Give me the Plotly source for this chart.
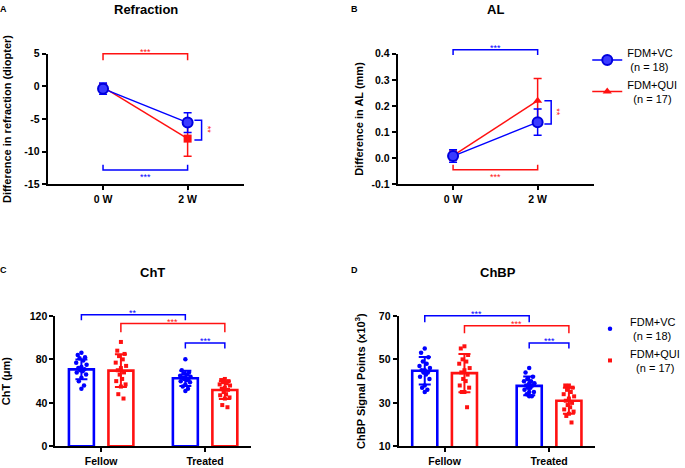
import plotly.graph_objects as go

W, H = 685, 468
BLUE = '#0000FF'
RED = '#FF1111'
FONT = 'Arial, Liberation Sans, Helvetica, sans-serif'

# ---------------- data ----------------
time_labels = ['0 W', '2 W']
refr_vc_mean = [-0.35, -5.55]
refr_vc_sd = [0.85, 1.5]
refr_qui_mean = [-0.1, -8.0]
refr_qui_sd = [0.5, 2.7]

al_vc_mean = [0.008, 0.138]
al_vc_sd = [0.024, 0.05]
al_qui_mean = [0.01, 0.22]
al_qui_sd = [0.018, 0.085]

eye_groups = ['Fellow', 'Treated']
cht_vc_mean = [70.8, 62.6]
cht_vc_sd = [9.0, 7.0]
cht_qui_mean = [69.7, 51.8]
cht_qui_sd = [15.0, 8.2]
cht_vc_points = [
    [86, 84, 82, 81, 79, 77, 75, 73, 72, 71, 70, 69, 68, 66, 63, 60, 56, 53],
    [80, 70, 68, 67, 66, 65, 64, 63, 63, 62, 62, 61, 60, 59, 57, 55, 53, 51],
]
cht_qui_points = [
    [96, 88, 85, 83, 80, 77, 74, 72, 70, 68, 66, 62, 60, 57, 55, 48, 44],
    [62, 61, 60, 59, 58, 57, 56, 54, 53, 52, 50, 48, 47, 45, 44, 38, 36],
]

chbp_vc_mean = [44.8, 37.8]
chbp_vc_sd = [6.3, 4.3]
chbp_qui_mean = [43.7, 31.0]
chbp_qui_sd = [8.8, 6.0]
chbp_vc_points = [
    [55, 53, 51, 49, 48, 47, 46, 45, 45, 44, 44, 43, 42, 41, 38, 37, 36, 35],
    [46, 44, 42, 41, 40, 40, 39, 39, 38, 38, 37, 37, 36, 35, 35, 34, 33, 33],
]
chbp_qui_points = [
    [56, 55, 52, 50, 49, 48, 46, 45, 44, 43, 41, 40, 38, 37, 35, 35, 28],
    [38, 38, 37, 36, 35, 34, 33, 32, 31, 30, 29, 28, 27, 26, 25, 24, 21],
]

vc_name = 'FDM+VC<br>\u00a0(n = 18)'
qui_name = 'FDM+QUI<br>\u00a0\u00a0(n = 17)'

# ---------------- layout geometry (pixels) ----------------
PANELS = {
    'A': dict(box=(49, 251, 49, 183), xr=(-0.655, 1.667), yr=(-15, 5), ax=''),
    'B': dict(box=(409, 611, 49, 183), xr=(-0.655, 1.667), yr=(-0.1, 0.4), ax='2'),
    'C': dict(box=(57, 258, 318, 452), xr=(-0.44, 1.44), yr=(0, 120), ax='3'),
    'D': dict(box=(410, 612, 318, 452), xr=(-0.44, 1.44), yr=(10, 70), ax='4'),
}


def px(panel, x, y):
    p = PANELS[panel]
    l, r, t, b = p['box']
    x0, x1 = p['xr']
    y0, y1 = p['yr']
    X = l + (x - x0) / (x1 - x0) * (r - l)
    Y = b - (y - y0) / (y1 - y0) * (b - t)
    return X, Y


def paper(X, Y):
    return X / W, 1 - Y / H


fig = go.Figure()

# ---------------- panels A & B (line plots) ----------------
def line_panel(panel, vc_m, vc_s, qui_m, qui_s, qui_symbol, show):
    ax = PANELS[panel]['ax']
    xs = list(range(len(time_labels)))
    fig.add_trace(go.Scatter(
        x=xs, y=qui_m, mode='lines+markers', name=qui_name,
        xaxis='x' + ax, yaxis='y' + ax, showlegend=show, legendrank=2,
        line=dict(color=RED, width=1.5),
        marker=dict(symbol=qui_symbol, size=8, color=RED),
        error_y=dict(type='data', array=qui_s, color=RED, thickness=1.5, width=4),
        cliponaxis=False))
    fig.add_trace(go.Scatter(
        x=xs, y=vc_m, mode='lines+markers', name=vc_name,
        xaxis='x' + ax, yaxis='y' + ax, showlegend=show, legendrank=1,
        line=dict(color=BLUE, width=1.5),
        marker=dict(symbol='circle', size=10, color='#3a3aff', line=dict(color='#0000dd', width=2)),
        error_y=dict(type='data', array=vc_s, color=BLUE, thickness=1.5, width=4),
        cliponaxis=False))


line_panel('A', refr_vc_mean, refr_vc_sd, refr_qui_mean, refr_qui_sd, 'square', False)
line_panel('B', al_vc_mean, al_vc_sd, al_qui_mean, al_qui_sd, 'triangle-up', True)

# ---------------- panels C & D (bar + points) ----------------
OFF = 0.19
JIT = [0, -0.035, 0.035, -0.018, 0.018, -0.05, 0.05, 0, -0.03, 0.03,
       -0.012, 0.012, -0.045, 0.045, 0, -0.025, 0.025, 0]


def bar_panel(panel, vc_m, vc_s, qui_m, qui_s, vc_pts, qui_pts, show):
    ax = PANELS[panel]['ax']
    for sign, m, s, pts, col, sym, name, rank in [
            (-1, vc_m, vc_s, vc_pts, BLUE, 'circle', vc_name, 1),
            (1, qui_m, qui_s, qui_pts, RED, 'square', qui_name, 2)]:
        xb = [g + sign * OFF for g in range(len(eye_groups))]
        fig.add_trace(go.Bar(
            x=xb, y=m, width=0.24, xaxis='x' + ax, yaxis='y' + ax, showlegend=False,
            marker=dict(color='rgba(0,0,0,0)', line=dict(color=col, width=2.6)),
            error_y=dict(type='data', array=s, color=col, thickness=2, width=6)))
        px_, py_ = [], []
        for g, vals in enumerate(pts):
            for i, v in enumerate(vals):
                px_.append(g + sign * OFF + JIT[i % len(JIT)])
                py_.append(v)
        fig.add_trace(go.Scatter(
            x=px_, y=py_, mode='markers', name=name, legend='legend2', legendrank=rank,
            xaxis='x' + ax, yaxis='y' + ax, showlegend=show,
            marker=dict(symbol=sym, size=4.5 if sym == 'circle' else 4, color=col),
            cliponaxis=False))


bar_panel('C', cht_vc_mean, cht_vc_sd, cht_qui_mean, cht_qui_sd, cht_vc_points, cht_qui_points, False)
bar_panel('D', chbp_vc_mean, chbp_vc_sd, chbp_qui_mean, chbp_qui_sd, chbp_vc_points, chbp_qui_points, True)

# ---------------- axes ----------------
ytitles = {
    'A': ('Difference in refraction (diopter)', 10),
    'B': ('Difference in AL (mm)', 6),
    'C': ('ChT (\u03bcm)', 18),
    'D': ('ChBP Signal Points (x10<sup>3</sup>)', 11),
}
ytick = {
    'A': dict(tickvals=[5, 0, -5, -10, -15], ticktext=['5', '0', '-5', '-10', '-15']),
    'B': dict(tickvals=[0.4, 0.3, 0.2, 0.1, 0.0, -0.1], ticktext=['0.4', '0.3', '0.2', '0.1', '0.0', '-0.1']),
    'C': dict(tickvals=[0, 40, 80, 120], ticktext=['0', '40', '80', '120']),
    'D': dict(tickvals=[10, 30, 50, 70], ticktext=['10', '30', '50', '70']),
}
for key, p in PANELS.items():
    l, r, t, b = p['box']
    ax = p['ax']
    xlabels = time_labels if key in 'AB' else eye_groups
    common = dict(showline=True, linecolor='black', linewidth=2, ticks='outside',
                  ticklen=4, tickwidth=1.5, tickcolor='black', showgrid=False,
                  zeroline=False, fixedrange=True,
                  tickfont=dict(family=FONT, size=10.5, color='black', weight='bold'))
    fig.layout['xaxis' + ax] = dict(
        domain=[l / W, r / W], range=list(p['xr']), anchor='y' + ax,
        tickvals=list(range(len(xlabels))), ticktext=xlabels, **common)
    fig.layout['yaxis' + ax] = dict(
        domain=[1 - b / H, 1 - t / H], range=list(p['yr']), anchor='x' + ax,
        title=dict(text=ytitles[key][0], standoff=ytitles[key][1],
                   font=dict(family=FONT, size=11, color='black', weight='bold')),
        **ytick[key], **common)

# ---------------- titles and panel letters ----------------
annotations = []
shapes = []
titles = [('Refraction', 150, 4), ('AL', 510, 4), ('ChT', 157, 273), ('ChBP', 512, 273)]
for text, X, Y in titles:
    x, y = paper(X, Y)
    annotations.append(dict(text='<b>' + text + '</b>', x=x, y=y, xref='paper', yref='paper',
                            xanchor='center', yanchor='middle', showarrow=False,
                            font=dict(family=FONT, size=13, color='black')))
letters = [('A', 4, 3), ('B', 365, 3), ('C', 4, 271), ('D', 365, 271)]
for text, X, Y in letters:
    x, y = paper(X, Y)
    annotations.append(dict(text='<b>' + text + '</b>', x=x, y=y, xref='paper', yref='paper',
                            xanchor='center', yanchor='middle', showarrow=False,
                            font=dict(family=FONT, size=9, color='black')))


def hbracket(panel, x0, x1, y, tip, color, label, label_dy):
    X0, Y = px(panel, x0, y)
    X1, _ = px(panel, x1, y)
    _, T = px(panel, x0, tip)
    pts = [(X0, T), (X0, Y), (X1, Y), (X1, T)]
    path = 'M ' + ' L '.join('%.4f,%.4f' % paper(a, c) for a, c in pts)
    shapes.append(dict(type='path', path=path, xref='paper', yref='paper',
                       line=dict(color=color, width=1.5)))
    lx, ly = paper((X0 + X1) / 2, Y + label_dy)
    annotations.append(dict(text=label, x=lx, y=ly, xref='paper', yref='paper',
                            xanchor='center', yanchor='middle', showarrow=False,
                            font=dict(family=FONT, size=9, color=color)))


def vbracket(panel, x, xt, y0, y1, color, label, label_dx, label_color):
    X, Y0 = px(panel, x, y0)
    Xt, Y1 = px(panel, xt, y1)
    pts = [(Xt, Y0), (X, Y0), (X, Y1), (Xt, Y1)]
    path = 'M ' + ' L '.join('%.4f,%.4f' % paper(a, c) for a, c in pts)
    shapes.append(dict(type='path', path=path, xref='paper', yref='paper',
                       line=dict(color=color, width=1.5)))
    lx, ly = paper(X + label_dx, (Y0 + Y1) / 2)
    annotations.append(dict(text=label, x=lx, y=ly, xref='paper', yref='paper',
                            xanchor='center', yanchor='middle', showarrow=False, textangle=90,
                            font=dict(family=FONT, size=9, color=label_color)))


# Panel A
hbracket('A', 0, 1, 5.0, 4.0, RED, '***', -2)
hbracket('A', 0, 1, -12.8, -12.0, BLUE, '***', 7)
vbracket('A', 1.165, 1.08, -5.2, -8.2, BLUE, '**', 6, RED)
# Panel B
hbracket('B', 0, 1, 0.415, 0.395, BLUE, '***', -2)
hbracket('B', 0, 1, -0.044, -0.025, RED, '***', 7)
vbracket('B', 1.16, 1.08, 0.22, 0.131, BLUE, '**', 6, RED)
# Panel C
hbracket('C', -OFF, 1 - OFF, 121, 116, BLUE, '**', -2)
hbracket('C', OFF, 1 + OFF, 113, 105, RED, '***', -2)
hbracket('C', 1 - OFF, 1 + OFF, 95, 90, BLUE, '***', -2)
# Panel D
hbracket('D', -OFF, 1 - OFF, 70, 67, BLUE, '***', -2)
hbracket('D', OFF, 1 + OFF, 65.5, 62, RED, '***', -2)
hbracket('D', 1 - OFF, 1 + OFF, 57.5, 55, BLUE, '***', -2)

lx1, ly1 = paper(604, 34)
lx2, ly2 = paper(607, 310)
fig.update_layout(
    width=W, height=H, margin=dict(l=0, r=0, t=0, b=0),
    plot_bgcolor='white', paper_bgcolor='white',
    font=dict(family=FONT, color='black'),
    barmode='overlay',
    annotations=annotations, shapes=shapes,
    legend=dict(x=lx1, y=ly1, xanchor='left', yanchor='top', bgcolor='rgba(0,0,0,0)',
                font=dict(family=FONT, size=11, color='black'), itemwidth=30,
                traceorder='normal'),
    legend2=dict(x=lx2, y=ly2, xanchor='left', yanchor='top', bgcolor='rgba(0,0,0,0)',
                 font=dict(family=FONT, size=11, color='black'), itemwidth=30,
                 traceorder='normal'),
)

fig.write_html('out.html', config={'displayModeBar': False},
               post_script="document.body.style.margin='0px';document.body.style.overflow='hidden';")
